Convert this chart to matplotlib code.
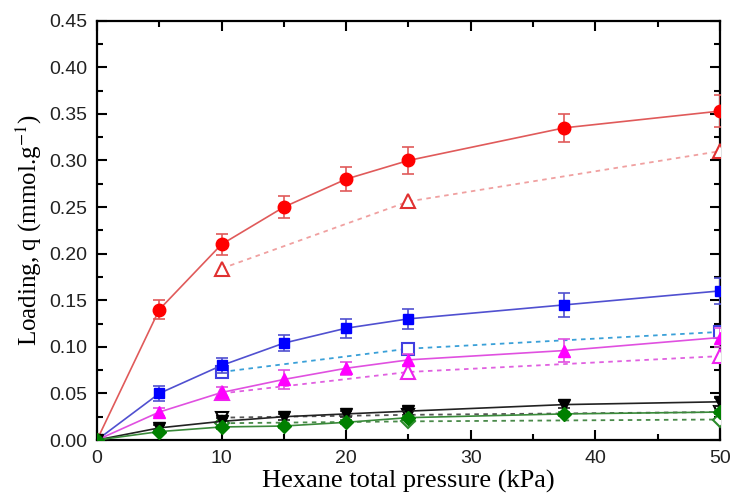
import numpy as np
import matplotlib.pyplot as plt
from matplotlib.ticker import MultipleLocator

plt.rcParams["mathtext.fontset"] = "stix"

# pressure points (kPa)
p_full = [0, 5, 10, 15, 20, 25, 37.5, 50]
p_open = [10, 25, 50]

# filled symbols (solid lines) with error bars
red_q = [0, 0.140, 0.210, 0.250, 0.280, 0.300, 0.335, 0.353]
red_err = [0, 0.010, 0.011, 0.012, 0.013, 0.014, 0.015, 0.017]
blue_q = [0, 0.050, 0.080, 0.104, 0.120, 0.130, 0.145, 0.160]
blue_err = [0, 0.008, 0.008, 0.009, 0.010, 0.011, 0.013, 0.014]
mag_q = [0, 0.030, 0.051, 0.065, 0.077, 0.086, 0.096, 0.110]
mag_err = [0, 0.004, 0.006, 0.010, 0.007, 0.006, 0.012, 0.010]
blk_q = [0, 0.013, 0.020, 0.025, 0.028, 0.031, 0.038, 0.041]
blk_err = [0, 0.003, 0.004, 0.003, 0.003, 0.004, 0.004, 0.004]
grn_q = [0, 0.009, 0.014, 0.015, 0.019, 0.024, 0.028, 0.030]
grn_err = [0, 0.002, 0.002, 0.002, 0.002, 0.002, 0.002, 0.002]

# open symbols (dotted lines)
red_open = [0.184, 0.256, 0.310]
blue_open = [0.073, 0.098, 0.116]
mag_open = [0.050, 0.073, 0.090]
blk_open = [0.024, 0.027, 0.030]
grn_open = [0.018, 0.020, 0.022]

fig = plt.figure(figsize=(7.32, 4.93), dpi=100)
ax = fig.add_axes([0.1325, 0.1075, 0.851, 0.8505])

filled = [
    (red_q, red_err, "o", "#ff0000", "#e05a5a", 9),
    (blue_q, blue_err, "s", "#0000ff", "#5050d0", 7.5),
    (mag_q, mag_err, "^", "#ff00ff", "#e050e0", 8.5),
    (blk_q, blk_err, "v", "#000000", "#222222", 8.5),
    (grn_q, grn_err, "D", "#008000", "#3a8a3a", 7),
]
opens = [
    (red_open, "^", "#e03030", "#f0a0a0", 9.5),
    (blue_open, "s", "#4040e0", "#3aa0d8", 8.5),
    (mag_open, "^", "#ee22ee", "#e060e0", 9.5),
    (blk_open, "v", "#000000", "#555555", 8.5),
    (grn_open, "D", "#2a8a2a", "#4a8a4a", 7.5),
]

for q, mk, mc, lc, ms in opens:
    ax.plot(p_open, q, linestyle=(0, (2.5, 2.5)), color=lc, lw=1.3, zorder=2)
    ax.plot(p_open, q, linestyle="none", marker=mk, ms=ms, mfc="white",
            mec=mc, mew=1.5, zorder=3)

for q, err, mk, mc, lc, ms in filled:
    ax.errorbar(p_full, q, yerr=err, color=lc, lw=1.2, elinewidth=1.2,
                capsize=4, capthick=1.2, marker=mk, ms=ms, mfc=mc, mec=mc,
                zorder=4)

ax.set_xlim(0, 50)
ax.set_ylim(0, 0.45)
ax.xaxis.set_major_locator(MultipleLocator(10))
ax.xaxis.set_minor_locator(MultipleLocator(5))
ax.yaxis.set_major_locator(MultipleLocator(0.05))
ax.yaxis.set_minor_locator(MultipleLocator(0.025))
ax.yaxis.set_major_formatter(plt.FormatStrFormatter("%.2f"))
ax.tick_params(which="both", direction="in", top=True, right=True,
               width=1.5, labelsize=14, labelcolor="#222222")
ax.tick_params(which="major", length=7, pad=7)
ax.tick_params(which="minor", length=4)
for lab in ax.get_xticklabels() + ax.get_yticklabels():
    lab.set_fontfamily("Liberation Sans")
for s in ax.spines.values():
    s.set_linewidth(1.6)

ax.set_xlabel("Hexane total pressure (kPa)", fontsize=19,
              fontfamily="Liberation Serif", labelpad=2)
ax.set_ylabel(r"Loading, q (mmol.g$^{-1}$)", fontsize=18,
              fontfamily="Liberation Serif", labelpad=4)

fig.savefig("out.png", dpi=100)
